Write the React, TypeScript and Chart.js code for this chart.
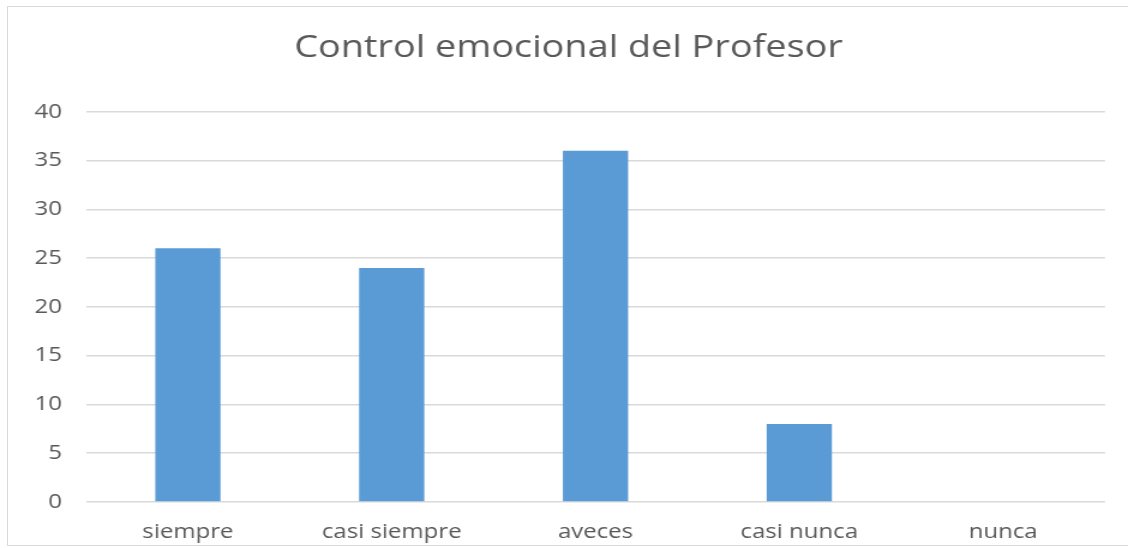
import React, { useEffect, useRef } from "react";
import { Chart, registerables } from "chart.js";

Chart.register(...registerables);

const categories = ["siempre", "casi siempre", "aveces", "casi nunca", "nunca"];
const values = [26, 24, 36, 8, 0];
const yTicks = [0, 5, 10, 15, 20, 25, 30, 35, 40];
const title = "Control emocional del Profesor";

const STRETCH = 1.2;
const PAGE_W = 1128;
const PAGE_H = 548;
const CANVAS_W = Math.round(PAGE_W / STRETCH);

export default function App() {
  const ref = useRef<HTMLCanvasElement>(null);
  useEffect(() => {
    const chart = new Chart(ref.current!, {
      type: "bar",
      data: {
        labels: categories,
        datasets: [
          {
            data: values,
            backgroundColor: "#5B9BD5",
            barPercentage: 0.32,
            categoryPercentage: 1,
          },
        ],
      },
      options: {
        animation: false,
        responsive: false,
        devicePixelRatio: 1,
        layout: { padding: { left: 32 / STRETCH, right: 23 / STRETCH, top: 0, bottom: 0 } },
        plugins: {
          legend: { display: false },
          tooltip: { enabled: false },
          title: {
            display: true,
            text: title,
            color: "#595959",
            font: { family: "Open Sans", size: 31.5, weight: "normal" },
            padding: { top: 29, bottom: 45 },
          },
        },
        scales: {
          x: {
            grid: { display: false, drawTicks: false },
            border: { display: false },
            ticks: {
              color: "#595959",
              font: { family: "Open Sans", size: 20 },
              padding: 18,
            },
            afterFit: (s: any) => {
              s.height = 46;
            },
          },
          y: {
            min: 0,
            max: 40,
            afterBuildTicks: (s: any) => {
              s.ticks = yTicks.map((v) => ({ value: v }));
            },
            grid: { color: "#D9D9D9", lineWidth: 1.5, drawTicks: false },
            border: { display: false },
            ticks: {
              color: "#595959",
              font: { family: "Open Sans", size: 20 },
              padding: 20,
            },
            afterFit: (s: any) => {
              s.width = 54 / STRETCH;
            },
          },
        },
      },
    });
    return () => chart.destroy();
  }, []);
  return (
    <div style={{ position: "fixed", left: 0, top: 0, width: PAGE_W, height: PAGE_H, background: "#fff", overflow: "hidden" }}>
      <div
        style={{
          position: "absolute",
          left: 7,
          top: 6,
          width: 1140,
          height: 540,
          border: "1.5px solid #D9D9D9",
          boxSizing: "border-box",
        }}
      />
      <canvas
        ref={ref}
        width={CANVAS_W}
        height={PAGE_H}
        style={{ position: "absolute", left: 0, top: 0, width: PAGE_W, height: PAGE_H }}
      />
    </div>
  );
}
